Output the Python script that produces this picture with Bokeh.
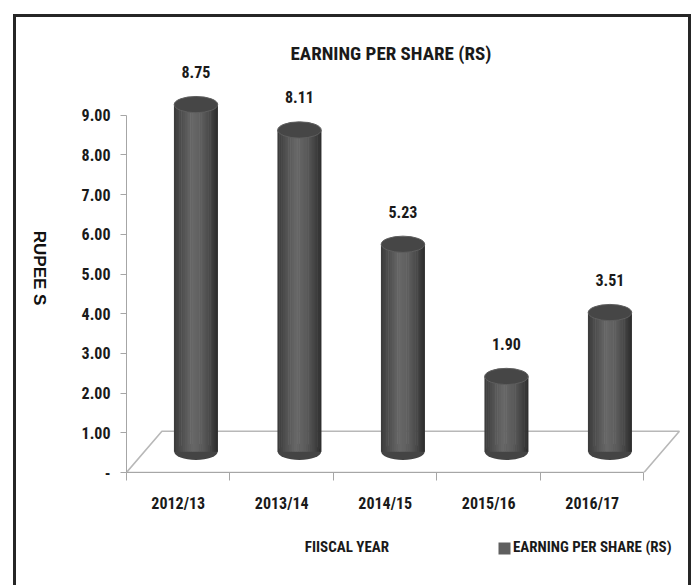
import math
from bokeh.plotting import figure
from bokeh.models import (Range1d, FixedTicker, ColumnDataSource, LinearAxis)
from bokeh.transform import dodge
from bokeh.core.properties import value
from bokeh.embed import file_html
from bokeh.resources import INLINE

# ---------------- data ----------------
fiscal_years = ["2012/13", "2013/14", "2014/15", "2015/16", "2016/17"]
eps_values = [8.75, 8.11, 5.23, 1.90, 3.51]
y_ticks = [0, 1, 2, 3, 4, 5, 6, 7, 8, 9]
y_tick_labels = ["-", "1.00", "2.00", "3.00", "4.00", "5.00", "6.00", "7.00", "8.00", "9.00"]
title_text = "EARNING PER SHARE (RS)"
x_title_text = "FIISCAL YEAR"
y_title_text = "RUPEE S"
legend_text = "EARNING PER SHARE (RS)"

# ---------------- style / layout ----------------
NARROW = "Roboto Condensed, Liberation Sans"
WIDE = "Liberation Sans"
TEXT_COLOR = "#1a1a1a"
AXIS_COLOR = "#a6a6a6"
SWATCH_COLOR = "#5f5f5f"
DEPTH_X = 0.342      # floor depth (category units)
DEPTH_Y = 1.04       # floor depth (value units)
CYL_W = 0.42         # cylinder diameter (category units)
ELL_H = 0.41         # ellipse height (value units)
SHADE_KEYS = [(0.0, 0x3a), (0.15, 0x4c), (0.42, 0x68), (0.65, 0x5c), (0.85, 0x45), (1.0, 0x2c)]
N_STRIPS = 24
Y_TITLE_POS = 4.21    # along the value axis (end of the rotated text)
X_TITLE_POS = 2.13    # along the category axis
SWATCH_POS = 3.65
LEGEND_TEXT_POS = 4.50


def shade(t):
    for (t0, c0), (t1, c1) in zip(SHADE_KEYS[:-1], SHADE_KEYS[1:]):
        if t0 <= t <= t1:
            c = int(round(c0 + (c1 - c0) * (t - t0) / (t1 - t0)))
            return "#%02x%02x%02x" % (c, c, c)
    return "#444444"


n = len(fiscal_years)
xs = [i + 0.5 for i in range(n)]
base = [DEPTH_Y / 2] * n
tops = [v + DEPTH_Y / 2 for v in eps_values]
label_y = [t + 0.82 for t in tops]
src = ColumnDataSource(dict(x=xs, base=base, top=tops, label_y=label_y,
                            label=[f"{v:.2f}" for v in eps_values]))

p = figure(width=678, height=571, output_backend="svg", toolbar_location=None,
           x_range=Range1d(0, 5.43), y_range=Range1d(0, 10.28),
           min_border_left=110, min_border_right=6, min_border_top=47,
           min_border_bottom=116, margin=(14, 0, 0, 13),
           styles={"border": "3px solid #262626", "border-bottom": "none"})
p.outline_line_color = None
p.xgrid.visible = False
p.ygrid.visible = False
p.background_fill_color = "white"
p.border_fill_color = "white"

# title
p.title.text = title_text
p.title.align = "left"
p.title.offset = 164
p.title.standoff = 0
p.title.text_font = NARROW
p.title.text_font_size = "19px"
p.title.text_font_style = "bold"
p.title.text_color = TEXT_COLOR

# floor
p.patch(x=[0, n, n + DEPTH_X, DEPTH_X], y=[0, 0, DEPTH_Y, DEPTH_Y],
        fill_color=None, line_color="#b8b8b8", line_width=1.6)

cx = DEPTH_X / 2
# bottom ellipses
p.ellipse(x=dodge("x", cx, range=p.x_range), y="base", width=CYL_W, height=ELL_H,
          fill_color="#444444", line_color=None, source=src)
# cylinder bodies as shaded strips
sw = CYL_W / N_STRIPS
for i in range(N_STRIPS):
    off = cx - CYL_W / 2 + (i + 0.5) * sw
    p.vbar(x=dodge("x", off, range=p.x_range), bottom="base", top="top",
           width=sw * 1.3, fill_color=shade((i + 0.5) / N_STRIPS), line_color=None,
           source=src)
# top ellipses
p.ellipse(x=dodge("x", cx, range=p.x_range), y="top", width=CYL_W, height=ELL_H,
          fill_color="#464646", line_color="#5e5e5e", line_width=1, source=src)

# value labels
p.text(x=dodge("x", cx, range=p.x_range), y="label_y", text="label", source=src,
       text_font=value(NARROW), text_font_size="16px", text_font_style="bold",
       text_align="center", text_baseline="middle", text_color=TEXT_COLOR)

# axes
yax = p.yaxis[0]
yax.ticker = FixedTicker(ticks=y_ticks)
yax.major_label_overrides = {t: l for t, l in zip(y_ticks, y_tick_labels)}
yax.bounds = (0, 9)
yax.axis_line_color = AXIS_COLOR
yax.major_tick_line_color = AXIS_COLOR
yax.major_tick_out = 6
yax.major_tick_in = 0
yax.minor_tick_line_color = None
yax.major_label_standoff = 10
yax.major_label_text_font = NARROW
yax.major_label_text_font_size = "16px"
yax.major_label_text_font_style = "bold"
yax.major_label_text_color = TEXT_COLOR

xax = p.xaxis[0]
xax.ticker = FixedTicker(ticks=xs, minor_ticks=list(range(n + 1)))
xax.major_label_overrides = {x: l for x, l in zip(xs, fiscal_years)}
xax.bounds = (0, n)
xax.axis_line_color = AXIS_COLOR
xax.major_tick_line_color = None
xax.major_tick_out = 0
xax.major_tick_in = 0
xax.minor_tick_line_color = AXIS_COLOR
xax.minor_tick_out = 8
xax.minor_tick_in = 0
xax.major_label_standoff = 13
xax.major_label_text_font = NARROW
xax.major_label_text_font_size = "16px"
xax.major_label_text_font_style = "bold"
xax.major_label_text_color = TEXT_COLOR

# y-axis title (reads top to bottom)
yt = LinearAxis(ticker=FixedTicker(ticks=[Y_TITLE_POS], minor_ticks=[]),
                major_label_overrides={Y_TITLE_POS: y_title_text},
                major_label_orientation=-math.pi / 2,
                axis_line_color=None, major_tick_line_color=None,
                minor_tick_line_color=None, major_tick_out=0, major_tick_in=0,
                major_label_standoff=39, major_label_text_font=WIDE,
                major_label_text_font_size="17px", major_label_text_font_style="bold",
                major_label_text_color="#111111")
p.add_layout(yt, "left")

# bottom row: x-axis title and legend (swatch drawn as a thick minor tick)
bt = LinearAxis(ticker=FixedTicker(ticks=[X_TITLE_POS, LEGEND_TEXT_POS],
                                   minor_ticks=[SWATCH_POS]),
                major_label_overrides={X_TITLE_POS: x_title_text,
                                       LEGEND_TEXT_POS: legend_text},
                axis_line_color=None, major_tick_line_color=None,
                major_tick_out=0, major_tick_in=0,
                minor_tick_line_color=SWATCH_COLOR, minor_tick_line_width=12,
                minor_tick_in=-27, minor_tick_out=39,
                major_label_standoff=-17, major_label_text_font=NARROW,
                major_label_text_font_size="15px", major_label_text_font_style="bold",
                major_label_text_color=TEXT_COLOR)
p.add_layout(bt, "below")

open("out.html", "w").write(file_html(p, INLINE))
